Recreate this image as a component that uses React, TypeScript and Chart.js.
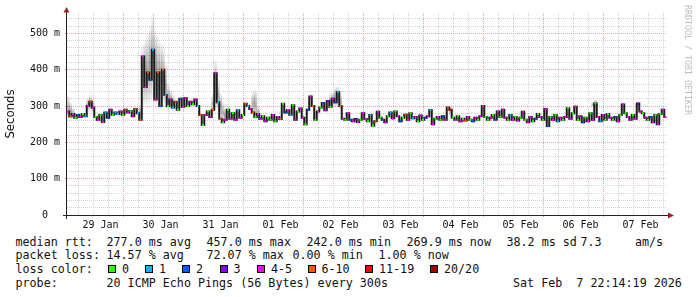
import React, { useEffect, useRef } from 'react';
import { Chart, registerables } from 'chart.js';

Chart.register(...registerables);

// ---- legend / axis text ----
const lossColors = ['#26ff00', '#00b8ff', '#0059ff', '#7e00ff', '#ff00ff', '#ff5500', '#ff0000', '#a10000'];
const lossLabels = ['0', '1', '2', '3', '4-5', '6-10', '11-19', '20/20'];
const dayLabels = ['29 Jan', '30 Jan', '31 Jan', '01 Feb', '02 Feb', '03 Feb', '04 Feb', '05 Feb', '06 Feb', '07 Feb'];
const yTickLabels = ['0  ', '100 m', '200 m', '300 m', '400 m', '500 m'];

// hours relative to 29 Jan 00:00; first sample is 28 Jan 23:00, one per hour
const firstHour = -1;
const axisStartHour = -1.4;
const axisEndHour = 238.6;
const yMax = 556;

// ---- median rtt (ms), per day ----
const rttJan28 = [285];
const rttJan29 = [272, 278, 268, 275, 270, 278, 272, 300, 312, 295, 270, 262, 275, 256, 282, 268, 290, 276, 282, 278, 285, 276, 290, 282];
const rttJan30 = [286, 272, 292, 280, 262, 436, 352, 392, 372, 455, 318, 392, 300, 400, 330, 300, 318, 296, 312, 290, 320, 298, 322, 300];
const rttJan31 = [312, 305, 318, 300, 275, 248, 275, 285, 270, 290, 390, 310, 265, 255, 262, 290, 265, 280, 262, 288, 268, 275, 306, 300];
const rttFeb01 = [292, 282, 270, 278, 265, 272, 258, 268, 262, 275, 258, 270, 264, 306, 282, 288, 276, 302, 262, 285, 293, 268, 250, 290];
const rttFeb02 = [326, 300, 262, 285, 296, 308, 288, 314, 298, 320, 310, 338, 300, 265, 262, 280, 262, 258, 264, 256, 262, 280, 264, 258];
const rttFeb03 = [275, 246, 258, 284, 268, 262, 255, 272, 282, 266, 285, 272, 258, 268, 276, 262, 280, 266, 270, 258, 274, 262, 268, 272];
const rttFeb04 = [289, 250, 265, 270, 262, 272, 262, 296, 290, 268, 262, 272, 258, 265, 260, 270, 262, 258, 268, 262, 272, 300, 270, 262];
const rttFeb05 = [268, 275, 262, 285, 270, 290, 268, 262, 275, 262, 270, 260, 268, 284, 262, 255, 270, 258, 265, 278, 270, 262, 292, 245];
const rttFeb06 = [270, 262, 275, 258, 268, 262, 270, 294, 265, 280, 298, 262, 272, 255, 268, 258, 280, 262, 307, 270, 258, 275, 262, 278];
const rttFeb07 = [268, 262, 270, 258, 275, 304, 280, 270, 262, 275, 265, 307, 285, 280, 268, 262, 270, 255, 275, 250, 278, 290, 270];

// ---- loss colour class (index into lossColors), per day ----
const lossJan28 = [4];
const lossJan29 = [5, 4, 0, 2, 4, 0, 1, 4, 5, 4, 0, 4, 0, 4, 1, 2, 4, 0, 1, 1, 4, 0, 5, 4];
const lossJan30 = [0, 4, 5, 1, 5, 4, 4, 5, 2, 1, 4, 5, 2, 5, 1, 0, 4, 1, 5, 0, 2, 4, 4, 0];
const lossJan31 = [4, 0, 4, 1, 5, 0, 4, 0, 4, 5, 4, 1, 5, 0, 4, 0, 4, 0, 4, 1, 4, 0, 5, 1];
const lossFeb01 = [4, 5, 0, 4, 4, 0, 4, 0, 0, 4, 0, 4, 5, 0, 2, 4, 1, 0, 4, 0, 4, 4, 0, 2];
const lossFeb02 = [4, 5, 0, 4, 0, 2, 4, 3, 0, 4, 2, 1, 5, 4, 0, 4, 2, 4, 3, 4, 0, 4, 4, 0];
const lossFeb03 = [1, 0, 5, 4, 0, 2, 4, 0, 1, 4, 0, 4, 2, 0, 5, 4, 0, 1, 4, 0, 4, 0, 2, 4];
const lossFeb04 = [1, 4, 0, 4, 0, 2, 4, 5, 6, 0, 4, 0, 4, 0, 5, 4, 0, 2, 4, 0, 4, 4, 0, 0];
const lossFeb05 = [4, 0, 2, 4, 0, 4, 4, 0, 1, 4, 0, 4, 0, 4, 0, 4, 4, 0, 2, 0, 4, 0, 4, 2];
const lossFeb06 = [0, 4, 0, 1, 4, 0, 4, 0, 4, 0, 4, 0, 4, 2, 0, 4, 0, 4, 0, 4, 1, 4, 0, 0];
const lossFeb07 = [4, 0, 2, 4, 0, 4, 0, 4, 4, 0, 4, 3, 4, 0, 4, 0, 2, 4, 0, 4, 0, 4, 4];

// ---- visible "smoke" (spread of pings), sparse ----
const smokeHours = [-1, 0, 1, 7, 8, 9, 28, 29, 30, 31, 32, 33, 34, 35, 36, 37, 38, 39, 40, 41, 57, 58, 59, 60, 61, 62, 73, 74, 75, 104, 105, 106, 107, 108, 152, 168, 209, 210];
const smokeLow = [262, 262, 265, 285, 290, 280, 270, 300, 305, 300, 310, 320, 300, 310, 290, 310, 295, 288, 292, 288, 280, 300, 285, 268, 255, 255, 275, 265, 262, 290, 300, 295, 300, 290, 272, 258, 295, 298];
const smokeHigh = [328, 310, 295, 322, 330, 318, 300, 470, 480, 500, 520, 556, 505, 490, 470, 470, 420, 360, 345, 330, 330, 425, 375, 335, 310, 292, 340, 345, 300, 335, 340, 352, 355, 330, 298, 272, 312, 318];

// ---- legend statistics ----
const statRows = [
  { label: 'median rtt:', items: [['277.0 ms avg', 107], ['457.0 ms max', 207], ['242.0 ms min', 307], ['269.9 ms now', 407], ['38.2 ms sd', 507], ['7.3', 581], ['am/s', 635.5]] },
  { label: 'packet loss:', items: [['14.57 % avg', 107], ['72.07 % max', 207], ['0.00 % min', 293], ['1.00 % now', 379]] },
];
const swatchX = [108, 145, 182, 219.5, 257, 307.5, 365, 430];
const probeText = '20 ICMP Echo Pings (56 Bytes) every 300s';
const dateText = 'Sat Feb  7 22:14:19 2026';

const rttAll = [
  ...rttJan28, ...rttJan29, ...rttJan30, ...rttJan31, ...rttFeb01,
  ...rttFeb02, ...rttFeb03, ...rttFeb04, ...rttFeb05, ...rttFeb06, ...rttFeb07,
];
const lossAll = [
  ...lossJan28, ...lossJan29, ...lossJan30, ...lossJan31, ...lossFeb01,
  ...lossFeb02, ...lossFeb03, ...lossFeb04, ...lossFeb05, ...lossFeb06, ...lossFeb07,
];

const MONO = "'DejaVu Sans Mono', monospace";
const RED_GRID = '#f0a0a0';
const GREY_GRID = '#d2d2d2';

const axesPlugin = {
  id: 'rrdAxes',
  afterDraw(chart: any) {
    const { ctx, chartArea: a } = chart;
    const ax = Math.round(a.left) - 1;
    const ay = Math.round(a.bottom);
    ctx.save();
    ctx.fillStyle = '#222';
    ctx.fillRect(ax, a.top - 2, 1, ay + 4 - (a.top - 2));
    ctx.fillRect(ax - 3, ay, a.right + 2 - (ax - 3), 1);
    ctx.fillStyle = '#a02424';
    ctx.beginPath();
    ctx.moveTo(ax + 0.5, a.top - 6);
    ctx.lineTo(ax + 3.5, a.top - 0.5);
    ctx.lineTo(ax - 2.5, a.top - 0.5);
    ctx.closePath();
    ctx.fill();
    ctx.beginPath();
    ctx.moveTo(a.right + 7, ay + 0.5);
    ctx.lineTo(a.right + 1, ay - 2.5);
    ctx.lineTo(a.right + 1, ay + 3.5);
    ctx.closePath();
    ctx.fill();
    ctx.restore();
  },
};

function SmokeChart() {
  const ref = useRef<HTMLCanvasElement | null>(null);
  useEffect(() => {
    if (!ref.current) return;
    const medianPts = rttAll.map((v, i) => ({ x: firstHour + i, y: v }));
    const capPts = rttAll.map((v, i) => ({ x: firstHour + i, y: [v - 2.8, v + 2.8] }));
    const smokePts = smokeHours.map((h, i) => ({ x: h, y: [smokeLow[i], smokeHigh[i]] }));

    const chart = new Chart(ref.current, {
      type: 'bar',
      data: {
        datasets: [
          {
            type: 'bar',
            data: smokePts as any,
            grouped: false,
            barPercentage: 1,
            categoryPercentage: 1,
            borderWidth: 0,
            order: 3,
            backgroundColor: (c: any) => {
              const chart = c.chart;
              if (!chart.chartArea || c.type !== 'data') return 'rgba(0,0,0,0.12)';
              const i = c.dataIndex;
              const ys = chart.scales.y;
              const top = ys.getPixelForValue(smokeHigh[i]);
              const bot = ys.getPixelForValue(smokeLow[i]);
              if (!(bot > top)) return 'rgba(0,0,0,0.12)';
              const g = chart.ctx.createLinearGradient(0, top, 0, bot);
              g.addColorStop(0, 'rgba(0,0,0,0.03)');
              g.addColorStop(0.5, 'rgba(0,0,0,0.3)');
              g.addColorStop(1, 'rgba(0,0,0,0.03)');
              return g;
            },
          } as any,
          {
            type: 'line',
            data: medianPts as any,
            borderColor: '#1c1c1c',
            borderWidth: 2,
            stepped: 'middle',
            pointRadius: 0,
            tension: 0,
            order: 2,
          } as any,
          {
            type: 'bar',
            data: capPts as any,
            grouped: false,
            barPercentage: 0.8,
            categoryPercentage: 1,
            borderWidth: 0,
            order: 1,
            backgroundColor: (c: any) => lossColors[lossAll[c.dataIndex]] || '#000',
          } as any,
        ],
      },
      options: {
        animation: false,
        responsive: false,
        devicePixelRatio: 1,
        layout: { padding: { top: 13, right: 30, left: 0, bottom: 0 } },
        plugins: { legend: { display: false }, tooltip: { enabled: false } },
        events: [],
        scales: {
          x: {
            type: 'linear',
            min: axisStartHour,
            max: axisEndHour,
            offset: false,
            afterBuildTicks: (s: any) => {
              const t = [];
              for (let h = 0; h <= axisEndHour; h += 6) t.push({ value: h });
              s.ticks = t;
            },
            afterFit: (s: any) => { s.height = 20; },
            ticks: {
              autoSkip: false,
              maxRotation: 0,
              minRotation: 0,
              padding: 2,
              color: '#111',
              font: { family: MONO, size: 10 },
              callback: (v: any) => (v % 24 === 12 ? dayLabels[(v - 12) / 24] || '' : ''),
            },
            grid: {
              color: (c: any) => (c.tick && c.tick.value % 24 === 0 ? RED_GRID : GREY_GRID),
              tickColor: (c: any) => (c.tick && c.tick.value % 24 === 0 ? RED_GRID : 'rgba(0,0,0,0)'),
              lineWidth: 1,
              tickLength: 2,
            },
            border: { display: false, dash: [1, 1] },
          },
          y: {
            type: 'linear',
            min: 0,
            max: yMax,
            afterBuildTicks: (s: any) => {
              const t = [];
              for (let v = 0; v < yMax; v += 20) t.push({ value: v });
              s.ticks = t;
            },
            afterFit: (s: any) => { s.width = 67; },
            ticks: {
              autoSkip: false,
              padding: 5,
              color: '#111',
              font: { family: MONO, size: 10 },
              callback: (v: any) => (v % 100 === 0 ? yTickLabels[v / 100] : ''),
            },
            grid: {
              color: (c: any) => (c.tick && c.tick.value % 100 === 0 ? RED_GRID : GREY_GRID),
              tickColor: (c: any) => (c.tick && c.tick.value % 100 === 0 ? RED_GRID : 'rgba(0,0,0,0)'),
              lineWidth: 1,
              tickLength: 2,
            },
            border: { display: false, dash: [1, 1] },
            title: {
              display: true,
              text: 'Seconds',
              color: '#111',
              font: { family: "'DejaVu Sans', sans-serif", size: 11.7 },
              padding: { top: 4, bottom: 0 },
            },
          },
        },
      } as any,
      plugins: [axesPlugin],
    });
    return () => chart.destroy();
  }, []);
  return <canvas ref={ref} width={697} height={235} style={{ position: 'absolute', left: 0, top: 0, width: 697, height: 235 }} />;
}

const textStyle: React.CSSProperties = {
  position: 'absolute',
  fontFamily: MONO,
  fontSize: '11.7px',
  lineHeight: '14px',
  color: '#111',
  whiteSpace: 'pre',
};

export default function App() {
  const rowTops = [234.5, 248, 262, 275.5];
  return (
    <div style={{ position: 'absolute', left: 0, top: 0, width: 697, height: 297, background: '#fff', overflow: 'hidden' }}>
      <SmokeChart />
      <div
        style={{
          position: 'absolute', left: 683, top: 5, writingMode: 'vertical-rl',
          fontFamily: MONO, fontSize: '8.3px', lineHeight: '10px', color: '#bdbdbd', whiteSpace: 'pre',
        }}
      >
        RRDTOOL / TOBI OETIKER
      </div>
      {statRows.map((row, r) => (
        <React.Fragment key={row.label}>
          <span style={{ ...textStyle, left: 15.5, top: rowTops[r] }}>{row.label}</span>
          {row.items.map(([t, x]) => (
            <span key={String(t)} style={{ ...textStyle, left: (x as number) - 0.5, top: rowTops[r] }}>{t}</span>
          ))}
        </React.Fragment>
      ))}
      <span style={{ ...textStyle, left: 15.5, top: rowTops[2] }}>loss color:</span>
      {lossLabels.map((l, i) => (
        <React.Fragment key={l}>
          <div
            style={{
              position: 'absolute', left: swatchX[i], top: 265, width: 6, height: 6,
              border: '1px solid #000', background: lossColors[i],
            }}
          />
          <span style={{ ...textStyle, left: swatchX[i] + 14, top: rowTops[2] }}>{l}</span>
        </React.Fragment>
      ))}
      <span style={{ ...textStyle, left: 15.5, top: rowTops[3] }}>probe:</span>
      <span style={{ ...textStyle, left: 106.5, top: rowTops[3] }}>{probeText}</span>
      <span style={{ ...textStyle, left: 513, top: rowTops[3] }}>{dateText}</span>
    </div>
  );
}
